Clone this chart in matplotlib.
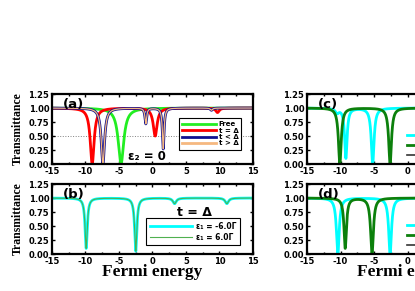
import numpy as np
import matplotlib.pyplot as plt
from matplotlib.lines import Line2D

# energy grid (x axis of every panel)
energy = np.linspace(-15, 15, 3001)

# resonance dips: (position, depth, half width)
free_dips = [(-4.7, 1.0, 0.5)]
eq_dips = [(-9.0, 1.0, 0.35), (0.4, 0.5, 0.35), (9.7, 0.08, 0.3)]
lt_dips = [(-7.4, 1.0, 0.3), (-1.0, 0.28, 0.15), (1.6, 0.73, 0.15), (8.8, 0.04, 0.2)]
gt_dips = [(-7.4, 1.0, 0.3), (-1.0, 0.28, 0.15), (1.6, 0.73, 0.15), (8.8, 0.04, 0.2)]

b_neg_dips = [(-9.9, 0.9, 0.2), (-2.5, 0.95, 0.2), (3.3, 0.1, 0.3), (11.1, 0.1, 0.3)]
b_pos_dips = [(-9.9, 0.9, 0.2), (-2.5, 0.95, 0.2), (3.3, 0.1, 0.3), (11.1, 0.1, 0.3)]

c_cyan_dips = [(-10.5, 0.08, 0.3), (-9.2, 0.9, 0.22), (-5.2, 1.0, 0.25)]
c_green_dips = [(-10.1, 1.0, 0.25), (-2.6, 1.0, 0.25)]
d_cyan_dips = [(-10.4, 1.0, 0.25), (-2.6, 1.0, 0.25)]
d_green_dips = [(-9.3, 0.9, 0.22), (-5.3, 1.0, 0.25)]

a_labels = ["Free", "t = Δ", "t < Δ", "t > Δ"]
b_labels = ["ε₁ = -6.0Γ", "ε₁ = 6.0Γ"]
cd_labels = ["t < Δ", "t > Δ", "Free"]

x_ticks = [-15, -10, -5, 0, 5, 10, 15]
y_ticks = [0.0, 0.25, 0.5, 0.75, 1.0, 1.25]

CYAN = "#00ffff"
LIME = "#22ee22"
NAVY = "#101090"
PEACH = "#f5b880"
DKGREEN = "#0c800c"
LTGREEN = "#4fb04f"

tick_font = dict(family="DejaVu Sans", weight="bold", size=6)
label_font = dict(family="Liberation Serif", weight="bold")


def transmittance(dips):
    t = np.ones_like(energy)
    for x0, depth, g in dips:
        t *= 1 - depth * g ** 2 / ((energy - x0) ** 2 + g ** 2)
    return t


def style(ax, tag):
    ax.set_xlim(-15, 15)
    ax.set_ylim(0, 1.25)
    ax.set_xticks(x_ticks)
    ax.set_yticks(y_ticks)
    ax.set_xticks(np.arange(-15, 15.1, 2.5), minor=True)
    ax.set_xticklabels([str(v) for v in x_ticks], **tick_font)
    ax.set_yticklabels(["%.2f" % v for v in y_ticks], **tick_font)
    ax.tick_params(which="both", direction="in", top=True, right=True,
                   length=2.5, width=1.0)
    ax.tick_params(axis="x", pad=2)
    ax.tick_params(axis="y", pad=2)
    ax.tick_params(which="minor", length=1.5)
    for s in ax.spines.values():
        s.set_linewidth(1.6)
    ax.text(0.055, 0.95, tag, transform=ax.transAxes, ha="left", va="top",
            family="DejaVu Sans", weight="bold", size=9.5)


fig = plt.figure(figsize=(4.15, 2.91), dpi=100)
ax_a = fig.add_axes([0.1253, 0.4364, 0.4843, 0.2405])
ax_b = fig.add_axes([0.1253, 0.1271, 0.4843, 0.2405])
ax_c = fig.add_axes([0.7398, 0.4364, 0.4843, 0.2405])
ax_d = fig.add_axes([0.7398, 0.1271, 0.4843, 0.2405])

# (a)
ax_a.axhline(0.5, color="gray", ls=":", lw=0.7, zorder=0)
ax_a.plot(energy, transmittance(free_dips), color=LIME, lw=2.0, label=a_labels[0])
ax_a.plot(energy, transmittance(eq_dips), color="red", lw=2.0, label=a_labels[1])
ax_a.plot(energy, transmittance(lt_dips), color=NAVY, lw=2.0, label=a_labels[2])
ax_a.plot(energy, transmittance(gt_dips), color=PEACH, lw=0.9, label=a_labels[3])
style(ax_a, "(a)")
ax_a.text(-3.7, 0.13, "ε₂ = 0", family="DejaVu Sans", weight="bold", size=8.5,
          va="center")
leg = ax_a.legend(loc="center right", bbox_to_anchor=(0.96, 0.43),
                  prop=dict(family="DejaVu Sans", weight="bold", size=5),
                  handlelength=4.8, labelspacing=0.05, borderpad=0.45,
                  handletextpad=0.4, fancybox=False, edgecolor="black",
                  framealpha=1)
for h in leg.get_lines():
    h.set_linewidth(2.0)
leg.get_frame().set_linewidth(0.8)
ax_a.set_ylabel("Transmittance", size=8.5, labelpad=3.5, **label_font)

# (b)
ax_b.plot(energy, transmittance(b_neg_dips), color=CYAN, lw=2.0, label=b_labels[0])
ax_b.plot(energy, transmittance(b_pos_dips), color=LTGREEN, lw=0.8, label=b_labels[1])
style(ax_b, "(b)")
ax_b.text(6.3, 0.75, "t = Δ", family="DejaVu Sans", weight="bold", size=9,
          ha="center", va="center")
leg = ax_b.legend(loc="lower right", bbox_to_anchor=(0.955, 0.07),
                  prop=dict(family="DejaVu Sans", weight="bold", size=5.5),
                  handlelength=5.5, labelspacing=0.3, borderpad=0.45,
                  handletextpad=0.6, fancybox=False, edgecolor="black",
                  framealpha=1)
leg.get_frame().set_linewidth(0.8)
ax_b.set_ylabel("Transmittance", size=8.5, labelpad=3.5, **label_font)
ax_b.set_xlabel("Fermi energy", size=12.5, labelpad=-1, **label_font)

# (c) and (d), cut off at the right edge
ax_c.plot(energy, transmittance(c_cyan_dips), color=CYAN, lw=2.0)
ax_c.plot(energy, transmittance(c_green_dips), color=DKGREEN, lw=2.0)
ax_d.plot(energy, transmittance(d_cyan_dips), color=CYAN, lw=2.0)
ax_d.plot(energy, transmittance(d_green_dips), color=DKGREEN, lw=2.0)
for ax, tag in [(ax_c, "(c)"), (ax_d, "(d)")]:
    style(ax, tag)
    handles = [Line2D([], [], color=CYAN, lw=2.0),
               Line2D([], [], color=DKGREEN, lw=2.0),
               Line2D([], [], color="#333333", lw=1.2)]
    lg = ax.legend(handles, cd_labels, loc="lower left",
                   bbox_to_anchor=(0.47, 0.0),
                   prop=dict(family="DejaVu Sans", weight="bold", size=5),
                   handlelength=3.5, labelspacing=0.6, borderpad=0.3,
                   frameon=False)
ax_d.set_xlabel("Fermi energy", size=12.5, labelpad=-1, **label_font)

fig.savefig("out.png", dpi=100)
